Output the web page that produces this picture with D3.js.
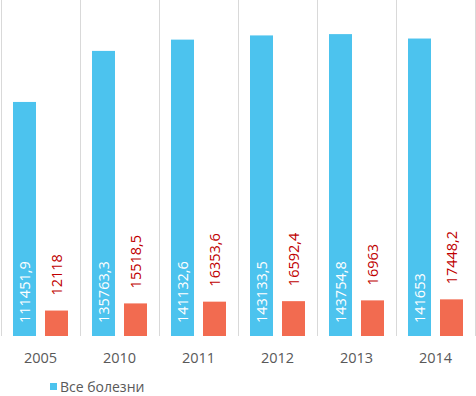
<!DOCTYPE html>
<html>
<head>
<meta charset="utf-8">
<script src="https://cdn.jsdelivr.net/npm/d3@7"></script>
<style>
  body { margin: 0; background: #fff; }
  svg { display: block; font-family: "Open Sans", sans-serif; }
</style>
</head>
<body>
<div id="canvas"></div>
<script>
const years = ["2005", "2010", "2011", "2012", "2013", "2014"];
const allDiseases = [111451.9, 135763.3, 141132.6, 143133.5, 143754.8, 141653];
const otherSeries = [12118, 15518.5, 16353.6, 16592.4, 16963, 17448.2];
const seriesNames = ["Все болезни", "Прочее"];
const labelsAll = ["111451,9", "135763,3", "141132,6", "143133,5", "143754,8", "141653"];
const labelsOther = ["12118", "15518,5", "16353,6", "16592,4", "16963", "17448,2"];

const width = 476;
const height = 396;
const margin = { top: 0, left: 1, bottom: 60, right: 1 };
const iwidth = width - margin.left - margin.right;
const iheight = 336;

const colors = ["#4cc3ee", "#f26b50"];

const svg = d3.select("#canvas").append("svg")
    .attr("width", width)
    .attr("height", height);

const g = svg.append("g").attr("transform", `translate(${margin.left},${margin.top})`);

const x = d3.scaleBand()
    .domain(years)
    .range([0, iwidth])
    .padding(0);

const xInner = d3.scaleBand()
    .domain([0, 1])
    .range([0, x.bandwidth()])
    .paddingInner(0.28125)
    .paddingOuter(0.375);

const y = d3.scaleLinear()
    .domain([0, 160000])
    .range([iheight, 0]);

// vertical separators between categories
const seps = years.map(d => x(d)).concat([iwidth]);
g.selectAll("line.sep").data(seps).enter().append("line")
    .attr("class", "sep")
    .attr("x1", d => Math.round(d) + 0.5)
    .attr("x2", d => Math.round(d) + 0.5)
    .attr("y1", 0)
    .attr("y2", iheight)
    .style("stroke", "#d9d9d9")
    .style("stroke-width", 1);

const data = years.map((yr, i) => ({
    year: yr,
    values: [allDiseases[i], otherSeries[i]],
    labels: [labelsAll[i], labelsOther[i]]
}));

const groups = g.selectAll("g.grp").data(data).enter().append("g")
    .attr("class", "grp")
    .attr("transform", d => `translate(${x(d.year)},0)`);

groups.selectAll("rect").data(d => d.values).enter().append("rect")
    .attr("x", (d, i) => xInner(i))
    .attr("y", d => y(d))
    .attr("width", xInner.bandwidth())
    .attr("height", d => iheight - y(d))
    .style("fill", (d, i) => colors[i]);

// labels inside the blue bars
groups.append("text")
    .attr("transform", d => `translate(${xInner(0) + xInner.bandwidth() / 2 + 5},${iheight - 13}) rotate(-90)`)
    .style("font-size", "14.5px")
    .style("fill", "#ffffff")
    .text(d => d.labels[0]);

// labels above the orange bars
groups.append("text")
    .attr("transform", d => `translate(${xInner(1) + xInner.bandwidth() / 2 + 5},${y(d.values[1]) - 15}) rotate(-90)`)
    .style("font-size", "14.5px")
    .style("fill", "#c00000")
    .text(d => d.labels[1]);

// category axis
const xAxis = g.append("g")
    .attr("transform", `translate(0,${iheight})`)
    .call(d3.axisBottom(x).tickSize(0).tickPadding(0));
xAxis.select(".domain").remove();
xAxis.selectAll("text")
    .attr("y", 27)
    .attr("dy", 0)
    .style("font-family", "Open Sans, sans-serif")
    .style("font-size", "14.5px")
    .style("fill", "#595959");

// legend
const legend = svg.append("g").attr("transform", "translate(50,383)");
legend.append("rect")
    .attr("width", 7)
    .attr("height", 7)
    .style("fill", colors[0]);
legend.append("text")
    .attr("x", 10)
    .attr("y", 9)
    .style("font-size", "14px")
    .style("fill", "#595959")
    .text(seriesNames[0]);
</script>
</body>
</html>
